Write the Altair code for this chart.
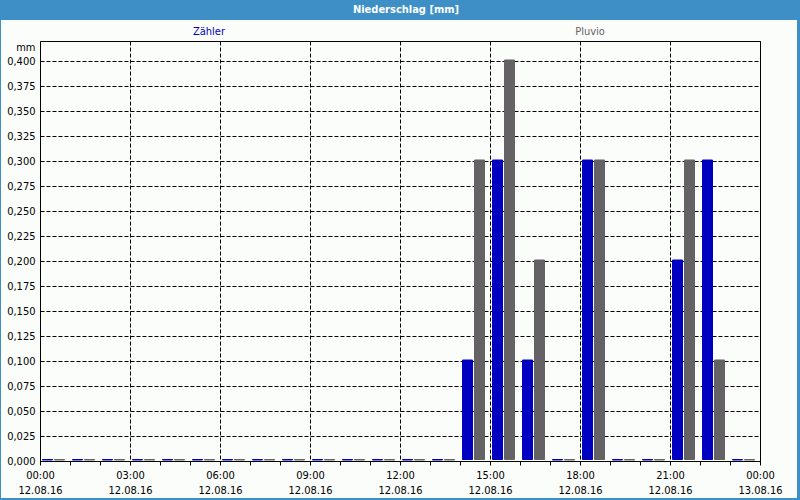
import json
import altair as alt
import pandas as pd

# ---- data ----
HOURS = [0, 1, 2, 3, 4, 5, 6, 7, 8, 9, 10, 11, 12, 13, 14, 15, 16, 17, 18, 19, 20, 21, 22, 23]
ZAEHLER = [0, 0, 0, 0, 0, 0, 0, 0, 0, 0, 0, 0, 0, 0, 0.1, 0.3, 0.1, 0, 0.3, 0, 0, 0.2, 0.3, 0]
PLUVIO = [0, 0, 0, 0, 0, 0, 0, 0, 0, 0, 0, 0, 0, 0, 0.3, 0.4, 0.2, 0, 0.3, 0, 0, 0.3, 0.1, 0]
SERIES = ["Zähler", "Pluvio"]
COLORS = ["#0000c0", "#646264"]
TIME_LABELS = ["00:00", "03:00", "06:00", "09:00", "12:00", "15:00", "18:00", "21:00", "00:00"]
DATE_LABELS = ["12.08.16", "12.08.16", "12.08.16", "12.08.16", "12.08.16",
               "12.08.16", "12.08.16", "12.08.16", "13.08.16"]
X_TICKS = list(range(25))
Y_TICKS = [0.0, 0.025, 0.05, 0.075, 0.1, 0.125, 0.15, 0.175, 0.2, 0.225, 0.25,
           0.275, 0.3, 0.325, 0.35, 0.375, 0.4]
TITLE = "Niederschlag [mm]"
Y_UNIT = "mm"

FONT = "DejaVu Sans Condensed, Liberation Sans, sans-serif"
BLUE_FRAME = "#3d8fc6"
BG = "#fbfdfb"

df = pd.DataFrame({
    "hour": HOURS + HOURS,
    "series": [SERIES[0]] * len(HOURS) + [SERIES[1]] * len(HOURS),
    "value": ZAEHLER + PLUVIO,
})

label_expr = (
    "datum.value % 3 == 0 ? ["
    + json.dumps(TIME_LABELS) + "[datum.value / 3], "
    + json.dumps(DATE_LABELS) + "[datum.value / 3]] : ''"
)

x_axis = alt.Axis(
    values=X_TICKS, labelExpr=label_expr, title=None,
    grid=True, gridColor="black", gridDash=[4, 2], gridWidth=1,
    gridOpacity={"condition": {"test": "datum.value % 3 != 0 || datum.value == 0", "value": 0}, "value": 1},
    tickSize=4, tickColor="black", domainColor="black",
    labelFontSize=11, labelColor="black", labelPadding=4, labelLineHeight=15,
    labelBaseline="top", labelFlush=False, labelOverlap=False, labelFont=FONT,
)

y_axis = alt.Axis(
    values=Y_TICKS, labelExpr="replace(format(datum.value, '.3f'), '.', ',')",
    grid=True, gridColor="black", gridDash=[4, 2], gridWidth=1,
    ticks=False, domainColor="black", labelFontSize=11, labelColor="black",
    labelPadding=5, labelFont=FONT, labelOverlap=False,
    title=Y_UNIT, titleAngle=0, titleAlign="right", titleBaseline="middle",
    titleX=-5, titleY=6, titleFontWeight="normal", titleFontSize=11,
    titleFont=FONT, titleColor="black",
)

color_scale = alt.Scale(domain=SERIES, range=COLORS)

bars = alt.Chart(df).transform_calculate(
    x0="datum.hour + (datum.series == 'Zähler' ? 2.5 : 14.5) / 30",
    x1="datum.hour + (datum.series == 'Zähler' ? 12.5 : 24.5) / 30",
    base="0",
).mark_bar(strokeWidth=1, yOffset=-1, y2Offset=-1.5).encode(
    x=alt.X("x0:Q", scale=alt.Scale(domain=[0, 24], nice=False, zero=False), axis=x_axis),
    x2="x1:Q",
    y=alt.Y("value:Q", scale=alt.Scale(domain=[0, 0.42], nice=False), axis=y_axis),
    y2="base:Q",
    color=alt.Color("series:N", scale=color_scale, legend=None),
    stroke=alt.Stroke("series:N", scale=color_scale, legend=None),
)

one = alt.Data(values=[{"k": 1}])

title_bar = alt.Chart(one).mark_rect(color=BLUE_FRAME).encode(
    x=alt.value(-40), x2=alt.value(760), y=alt.value(-41), y2=alt.value(-21)
)
left_border = alt.Chart(one).mark_rect(color=BLUE_FRAME).encode(
    x=alt.value(-40), x2=alt.value(-39), y=alt.value(-41), y2=alt.value(459)
)
right_border = alt.Chart(one).mark_rect(color=BLUE_FRAME).encode(
    x=alt.value(757), x2=alt.value(760), y=alt.value(-41), y2=alt.value(459)
)
bottom_border = alt.Chart(one).mark_rect(color=BLUE_FRAME).encode(
    x=alt.value(-40), x2=alt.value(760), y=alt.value(457), y2=alt.value(459)
)
title_text = alt.Chart(one).mark_text(
    color="white", fontWeight="bold", fontSize=11, font=FONT, baseline="middle", align="center"
).encode(x=alt.value(366), y=alt.value(-31), text=alt.value(TITLE))

legend_z = alt.Chart(one).mark_text(
    color=COLORS[0], fontSize=11, font=FONT, baseline="middle", align="center"
).encode(x=alt.value(169), y=alt.value(-9), text=alt.value(SERIES[0]))
legend_p = alt.Chart(one).mark_text(
    color=COLORS[1], fontSize=11, font=FONT, baseline="middle", align="center"
).encode(x=alt.value(550), y=alt.value(-9), text=alt.value(SERIES[1]))

chart = alt.layer(
    bars, title_bar, left_border, right_border, bottom_border, title_text, legend_z, legend_p
).properties(
    width=720, height=420,
    padding={"left": 40, "top": 41, "right": 40, "bottom": 39},
    autosize=alt.AutoSizeParams(type="none"),
    background=BG,
).configure_view(stroke="black", strokeWidth=1)

chart.save("out.html", embed_options={"renderer": "svg", "actions": False})
